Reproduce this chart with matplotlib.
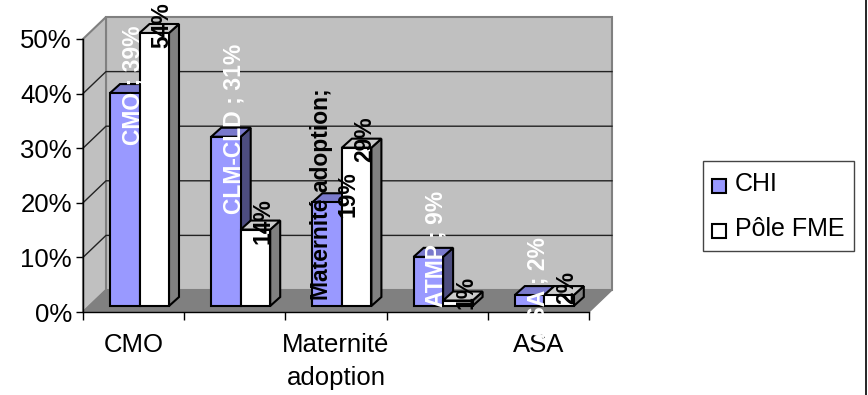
import matplotlib
matplotlib.use("Agg")
import matplotlib.pyplot as plt
from matplotlib.patches import Polygon, Rectangle
from matplotlib.transforms import Affine2D

plt.rcParams['font.family'] = ['Liberation Sans', 'DejaVu Sans']

# ---------------- Data ----------------
categories = ["CMO", "CLM-CLD", "Maternité adoption", "ATMP", "ASA"]
tick_labels = ["CMO", "", "Maternité\nadoption", "", "ASA"]
series_names = ["CHI", "Pôle FME"]
chi_values = [39, 31, 19, 9, 2]
fme_values = [54, 14, 29, 1, 2]
y_ticks = [0, 10, 20, 30, 40, 50]

# ---------------- Layout (pixels of the 868x395 picture) ----------------
W, H = 868, 395
X0, X1, Y0, Y50 = 83, 589, 312, 39
WALL_DX, WALL_DY = 23, 22
BAR_D0, BAR_DX, BAR_DY = 6, 10, 9
BAR_W = 29.5
GAP_LEFT = 21

fig = plt.figure(figsize=(W / 100, H / 100), dpi=100)
ax = fig.add_axes([X0 / W, 1 - Y0 / H, (X1 - X0) / W, (Y0 - Y50) / H])
ax.set_xlim(0, len(categories))
ax.set_ylim(0, 50)
px_x = len(categories) / (X1 - X0)
px_y = 50 / (Y0 - Y50)


def shift(x, y, dx_px, dy_px):
    return x + dx_px * px_x, y + dy_px * px_y


n = len(categories)
wall = "#c0c0c0"
floor = "#808080"

# back wall, side wall, floor
ax.add_patch(Polygon([shift(0, 0, WALL_DX, WALL_DY), shift(n, 0, WALL_DX, WALL_DY),
                      shift(n, 50, WALL_DX, WALL_DY), shift(0, 50, WALL_DX, WALL_DY)],
                     fc=wall, ec="#808080", lw=1.5, clip_on=False, zorder=1))
ax.add_patch(Polygon([(0, 0), shift(0, 0, WALL_DX, WALL_DY), shift(0, 50, WALL_DX, WALL_DY), (0, 50)],
                     fc=wall, ec="#808080", lw=1.5, clip_on=False, zorder=1))
ax.add_patch(Polygon([(0, 0), (n, 0), shift(n, 0, WALL_DX, WALL_DY), shift(0, 0, WALL_DX, WALL_DY)],
                     fc=floor, ec="#808080", lw=1, clip_on=False, zorder=1))

for t in y_ticks[1:5]:
    xs, ys = zip((0, t), shift(0, t, WALL_DX, WALL_DY), shift(n, t, WALL_DX, WALL_DY))
    ax.plot(xs, ys, color="#222222", lw=1, clip_on=False, zorder=2)

# ---------------- Bars ----------------
bar_tr = ax.transData + Affine2D().translate(BAR_D0, BAR_D0)
colors = [("#9999ff", "#4d4d80", "#7a7acc"), ("#ffffff", "#808080", "#cccccc")]
text_colors = ["white", "black"]

for s, values in enumerate([chi_values, fme_values]):
    face, side, top = colors[s]
    lefts = [i + (GAP_LEFT + s * BAR_W) * px_x for i in range(n)]
    heights = [min(v, 50) for v in values]
    ax.bar(lefts, heights, width=BAR_W * px_x, align="edge", color=face, edgecolor="black",
           linewidth=1.5, transform=bar_tr, clip_on=False, zorder=4 + s)
    for i, h in enumerate(heights):
        l = lefts[i]
        r = l + BAR_W * px_x
        ax.add_patch(Polygon([shift(r, 0, BAR_D0, BAR_D0), shift(r, 0, BAR_D0 + BAR_DX, BAR_D0 + BAR_DY),
                              shift(r, h, BAR_D0 + BAR_DX, BAR_D0 + BAR_DY), shift(r, h, BAR_D0, BAR_D0)],
                             fc=side, ec="black", lw=1.5, clip_on=False, zorder=3 + s))
        ax.add_patch(Polygon([shift(l, h, BAR_D0, BAR_D0), shift(r, h, BAR_D0, BAR_D0),
                              shift(r, h, BAR_D0 + BAR_DX, BAR_D0 + BAR_DY), shift(l, h, BAR_D0 + BAR_DX, BAR_D0 + BAR_DY)],
                             fc=top, ec="black", lw=1.5, clip_on=False, zorder=3 + s))
        if s == 0:
            if len(categories[i]) > 10:
                label = f"{categories[i]};\n{values[i]}%"
                col = "black"
            else:
                label = f"{categories[i]} ; {values[i]}%"
                col = text_colors[s]
        else:
            label = f"{values[i]}%"
            col = text_colors[s]
        cx, cy = shift(l + BAR_W * px_x / 2, h, BAR_D0 + 8, BAR_D0 + 8)
        ax.text(cx, cy, label, rotation=90, ha="center", va="center", ma="center", color=col,
                fontsize=16.5, fontweight="bold", clip_on=False, zorder=10)

# ---------------- Axes ----------------
for name, sp in ax.spines.items():
    sp.set_visible(name in ("left", "bottom"))
    sp.set_color("black")
    sp.set_linewidth(1)
    sp.set_zorder(6)
ax.patch.set_alpha(0)
ax.set_yticks(y_ticks)
ax.set_yticklabels([f"{t}%" for t in y_ticks], fontsize=18.5)
ax.set_xticks(range(n + 1))
ax.set_xticklabels([])
ax.tick_params(axis="both", length=5, width=1, color="black")
ax.tick_params(axis="x", length=6)
ax.tick_params(axis="y", pad=3)
for i, lab in enumerate(tick_labels):
    if lab:
        ax.annotate(lab, (i + 0.5, 0), xytext=(0, -15), xycoords="data", textcoords="offset points",
                    ha="center", va="top", fontsize=18.5, linespacing=1.5, annotation_clip=False)

# ---------------- Legend ----------------
fig.add_artist(Rectangle((703 / W, 1 - 251 / H), 151 / W, 90 / H, transform=fig.transFigure,
                         fc="white", ec="#444444", lw=1))
for name, c, ypx in zip(series_names, [colors[0][0], colors[1][0]], [184, 229]):
    fig.add_artist(Rectangle((712 / W, 1 - (ypx + 9) / H), 14 / W, 14 / H, transform=fig.transFigure,
                             fc=c, ec="black", lw=1.5))
    fig.text(735 / W, 1 - ypx / H, name, fontsize=18, va="center", ha="left")

# outer frame on the right
fig.add_artist(plt.Line2D([865.5 / W, 865.5 / W], [0, 1], color="black", lw=1.2, transform=fig.transFigure))

fig.savefig("out.png", dpi=100)
